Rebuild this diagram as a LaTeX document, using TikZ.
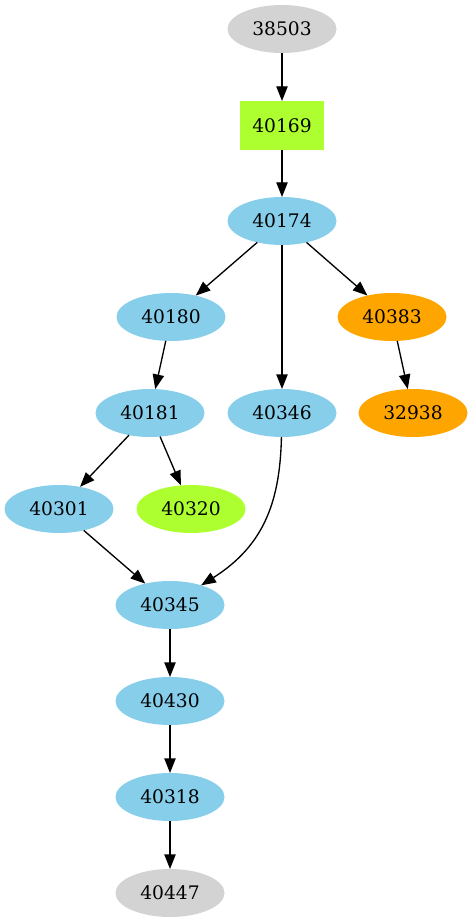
\documentclass[tikz,border=0pt]{standalone}
\usepackage{fontspec}
\setmainfont{DejaVu Serif}
\usetikzlibrary{positioning,shapes.geometric,arrows.meta}
\definecolor{job_gray}{HTML}{D3D3D3}
\definecolor{job_blue}{HTML}{87CEEB}
\definecolor{job_green}{HTML}{ADFF2F}
\definecolor{job_orange}{HTML}{FFA500}

\begin{document}
\begin{tikzpicture}[x=0.75pt,y=-0.75pt,
    font=\fontsize{14}{17}\selectfont,
    job/.style={ellipse,fill=#1,minimum width=81.75pt,minimum height=36pt,inner sep=0pt,outer sep=0pt},
    jobbox/.style={rectangle,fill=#1,minimum width=63pt,minimum height=36.75pt,inner sep=0pt,outer sep=0pt},
    edge/.style={-{Triangle[length=11pt,width=8.5pt]},line width=1pt},
    node distance=36pt]
    \useasboundingbox (0,0) rectangle (473,923);

    % Top of the chain
    \node[job=job_gray] (node_38503) at (282,29) {38503};
    \node[jobbox=job_green] (node_40169) [below=of node_38503] {40169};
    \node[job=job_blue] (node_40174) at (282,221) {40174};

    % Successors of 40174
    \node[job=job_blue] (node_40180) at (171,317) {40180};
    \node[job=job_orange] (node_40383) at (392,317) {40383};
    \node[job=job_blue] (node_40181) at (150,413) {40181};
    \node[job=job_blue] (node_40346) at (282,413) {40346};
    \node[job=job_orange] (node_32938) at (413,413) {32938};
    \node[job=job_blue] (node_40301) at (59,509) {40301};
    \node[job=job_green] (node_40320) at (191,509) {40320};

    % Bottom of the chain
    \node[job=job_blue] (node_40345) at (170,605) {40345};
    \node[job=job_blue] (node_40430) [below=of node_40345] {40430};
    \node[job=job_blue] (node_40318) [below=of node_40430] {40318};
    \node[job=job_gray] (node_40447) [below=of node_40318] {40447};

    \draw[edge] (node_38503) -- (node_40169);
    \draw[edge] (node_40169) -- (node_40174);
    \draw[edge] (node_40174) -- (node_40180);
    \draw[edge] (node_40174) -- (node_40346);
    \draw[edge] (node_40174) -- (node_40383);
    \draw[edge] (node_40180) -- (node_40181);
    \draw[edge] (node_40383) -- (node_32938);
    \draw[edge] (node_40181) -- (node_40301);
    \draw[edge] (node_40181) -- (node_40320);
    \draw[edge] (node_40301) -- (node_40345);
    \draw[edge] (node_40346) .. controls (280,500) and (265,545) .. (node_40345);
    \draw[edge] (node_40345) -- (node_40430);
    \draw[edge] (node_40430) -- (node_40318);
    \draw[edge] (node_40318) -- (node_40447);
\end{tikzpicture}
\end{document}
